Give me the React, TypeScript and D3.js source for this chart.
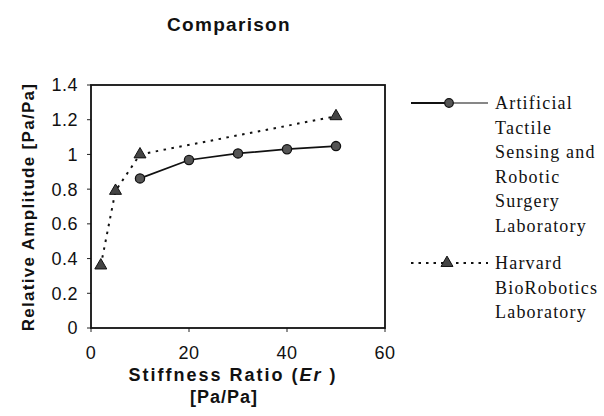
import React from "react";
import * as d3 from "d3";

const atsrsX = [10, 20, 30, 40, 50];
const atsrsY = [0.862, 0.968, 1.006, 1.03, 1.048];
const harvardX = [2, 5, 10, 50];
const harvardY = [0.36, 0.79, 1.0, 1.22];
const xTicks = [0, 20, 40, 60];
const yTicks = [0, 0.2, 0.4, 0.6, 0.8, 1, 1.2, 1.4];
const legend1 = ["Artificial", "Tactile", "Sensing and", "Robotic", "Surgery", "Laboratory"];
const legend2 = ["Harvard", "BioRobotics", "Laboratory"];

const sans = "'Liberation Sans', Arial, sans-serif";
const serif = "'Liberation Serif', 'Times New Roman', serif";

export default function App() {
  const W = 604, H = 416;
  const left = 91, right = 385, top = 85, bottom = 328;
  const x = d3.scaleLinear().domain([0, 60]).range([left, right]);
  const y = d3.scaleLinear().domain([0, 1.4]).range([bottom, top]);
  const line = d3.line<[number, number]>().x(d => x(d[0])).y(d => y(d[1]));
  const s1 = atsrsX.map((v, i) => [v, atsrsY[i]] as [number, number]);
  const s2 = harvardX.map((v, i) => [v, harvardY[i]] as [number, number]);
  const tri = d3.symbol().type(d3.symbolTriangle).size(62);
  const lx0 = 411, lx1 = 488, lxm = 449, ltx = 495;
  const l1y = 103, l2y = 263, lh = 24.6;

  return (
    <svg width={W} height={H} style={{ position: "absolute", left: 0, top: 0, background: "#fff" }}>
      <rect x={0} y={0} width={W} height={H} fill="#fff" />
      <text x={229} y={31} textAnchor="middle" fontFamily={sans} fontWeight="bold" fontSize={19} letterSpacing={1.3} fill="#111">Comparison</text>

      {/* y ticks */}
      {yTicks.map(t => (
        <g key={"y" + t}>
          <line x1={left - 4} x2={left} y1={y(t)} y2={y(t)} stroke="#222" strokeWidth={1} />
          <text x={78} y={y(t)} dy="0.36em" textAnchor="end" fontFamily={sans} fontSize={18} letterSpacing={0.5} fill="#111">{d3.format("~g")(t)}</text>
        </g>
      ))}
      {xTicks.map(t => (
        <g key={"x" + t}>
          <line x1={x(t)} x2={x(t)} y1={bottom} y2={bottom + 4} stroke="#222" strokeWidth={1} />
          <text x={x(t)} y={359} textAnchor="middle" fontFamily={sans} fontSize={18} letterSpacing={0.4} fill="#111">{t}</text>
        </g>
      ))}
      <rect x={left} y={top} width={right - left} height={bottom - top} fill="none" stroke="#111" strokeWidth={1.8} />

      {/* axis titles */}
      <text transform={`translate(34,207) rotate(-90)`} textAnchor="middle" fontFamily={sans} fontWeight="bold" fontSize={17} letterSpacing={1.3} fill="#111">Relative Amplitude [Pa/Pa]</text>
      <text x={233} y={381} textAnchor="middle" fontFamily={sans} fontWeight="bold" fontSize={18} letterSpacing={2} fill="#111">Stiffness Ratio (<tspan fontStyle="italic">Er</tspan> )</text>
      <text x={224} y={403} textAnchor="middle" fontFamily={sans} fontWeight="bold" fontSize={18} letterSpacing={1} fill="#111">[Pa/Pa]</text>

      {/* series */}
      <path d={line(s2) || ""} fill="none" stroke="#111" strokeWidth={2} strokeDasharray="2.5,5.5" />
      <path d={line(s1) || ""} fill="none" stroke="#111" strokeWidth={1.7} />
      {s1.map((d, i) => (
        <circle key={"c" + i} cx={x(d[0])} cy={y(d[1])} r={4.6} fill="#555" stroke="#111" strokeWidth={1.3} />
      ))}
      {s2.map((d, i) => (
        <path key={"t" + i} d={tri() || ""} transform={`translate(${x(d[0])},${y(d[1])})`} fill="#444" stroke="#111" strokeWidth={1} />
      ))}

      {/* legend */}
      <line x1={lx0} x2={lxm} y1={l1y} y2={l1y} stroke="#111" strokeWidth={1.8} />
      <line x1={lxm} x2={lx1} y1={l1y} y2={l1y} stroke="#111" strokeWidth={1.2} />
      <circle cx={lxm} cy={l1y} r={4.3} fill="#555" stroke="#111" strokeWidth={1.2} />
      {legend1.map((s, i) => (
        <text key={"l1" + i} x={ltx} y={l1y + i * lh} dy="0.33em" fontFamily={serif} fontSize={18} letterSpacing={1.2} fill="#111">{s}</text>
      ))}
      <line x1={lx0} x2={lx1} y1={l2y} y2={l2y} stroke="#111" strokeWidth={2} strokeDasharray="2.5,5" />
      <path d={tri() || ""} transform={`translate(${lxm - 2},${l2y})`} fill="#444" stroke="#111" strokeWidth={1} />
      {legend2.map((s, i) => (
        <text key={"l2" + i} x={ltx} y={l2y + i * lh} dy="0.33em" fontFamily={serif} fontSize={18} letterSpacing={1.2} fill="#111">{s}</text>
      ))}
    </svg>
  );
}
